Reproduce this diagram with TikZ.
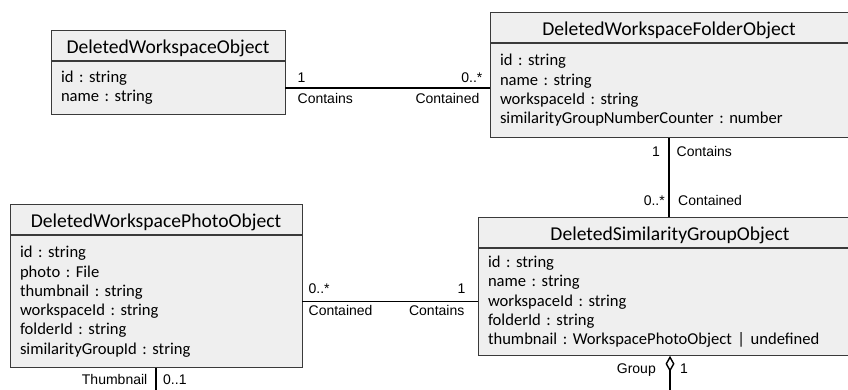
\documentclass[tikz,border=0pt]{standalone}
\usepackage{fontspec}
\setmainfont{Carlito}
\newfontfamily\labelfont{Liberation Sans}
\usetikzlibrary{arrows.meta}
\frenchspacing
\definecolor{boxfill}{HTML}{EFEFEF}
\definecolor{boxline}{HTML}{3A3A3A}
\tikzset{
  classhead/.style={draw=boxline, fill=boxfill, line width=0.9pt, anchor=north, inner sep=0pt,
    minimum height=30pt, text height=16.5pt, text depth=0.5pt, font=\fontsize{19.6}{23}\selectfont},
  classbody/.style={draw=boxline, fill=boxfill, line width=0.9pt, anchor=north, inner xsep=10pt,
    inner ysep=0pt, align=left, font=\fontsize{16.6}{19.3}\selectfont},
  assoc/.style={line width=1.4pt},
  rolelabel/.style={inner sep=0pt, font=\labelfont\fontsize{14}{16}\selectfont},
}
\begin{document}
\begin{tikzpicture}[x=1pt,y=-1pt]
\clip (0,0) rectangle (848,389);

% Draw classes
\node[classhead, minimum width=234pt] (wshead) at (168,30) {DeletedWorkspaceObject};
\node[classbody, text width=214pt, minimum height=53.3pt] (wsbody) at (wshead.south)
  {id : string\\ name : string};

\node[classhead, minimum width=358pt] (folderhead) at (669,12) {DeletedWorkspaceFolderObject};
\node[classbody, text width=338pt, minimum height=94pt] (folderbody) at (folderhead.south)
  {id : string\\ name : string\\ workspaceId : string\\ similarityGroupNumberCounter : number};

\node[classhead, minimum width=292pt] (photohead) at (156,204.3) {DeletedWorkspacePhotoObject};
\node[classbody, text width=272pt, minimum height=132pt] (photobody) at (photohead.south)
  {id : string\\ photo : File\\ thumbnail : string\\ workspaceId : string\\ folderId : string\\
   similarityGroupId : string};

\node[classhead, minimum width=384pt] (grouphead) at (670,216.7) {DeletedSimilarityGroupObject};
\node[classbody, text width=364pt, minimum height=107.3pt] (groupbody) at (grouphead.south)
  {id : string\\ name : string\\ workspaceId : string\\ folderId : string\\
   thumbnail : WorkspacePhotoObject | undefined};

% Workspace -- folder
\draw[assoc] (wsbody.east) -- (wsbody.east -| folderbody.west);
\node[rolelabel, anchor=south west] (wsone) at ([xshift=12pt,yshift=5.5pt]wsbody.east) {1};
\node[rolelabel, anchor=north west] (wscontains) at ([xshift=12pt,yshift=-5pt]wsbody.east) {Contains};
\node[rolelabel, anchor=south east] (folderany) at ([xshift=-7pt,yshift=5.5pt]wsbody.east -| folderbody.west) {0..*};
\node[rolelabel, anchor=north east] (foldercontained) at ([xshift=-10pt,yshift=-5pt]wsbody.east -| folderbody.west) {Contained};

% Folder -- similarity group
\draw[assoc] (folderbody.south) -- (folderbody.south |- grouphead.north);
\node[rolelabel, anchor=north east] (folderone) at ([xshift=-9pt,yshift=-8.6pt]folderbody.south) {1};
\node[rolelabel, anchor=north west] (foldercontains) at ([xshift=7.5pt,yshift=-8.6pt]folderbody.south) {Contains};
\node[rolelabel, anchor=south east] (groupany) at ([xshift=-4pt,yshift=10.5pt]folderbody.south |- grouphead.north) {0..*};
\node[rolelabel, anchor=south west] (groupcontained) at ([xshift=9pt,yshift=10.5pt]folderbody.south |- grouphead.north) {Contained};

% Photo -- similarity group
\draw[assoc] (photobody.east) -- (photobody.east -| groupbody.west);
\node[rolelabel, anchor=south west] (photoany) at ([xshift=6pt,yshift=8.3pt]photobody.east) {0..*};
\node[rolelabel, anchor=north west] (photocontained) at ([xshift=6pt,yshift=-3pt]photobody.east) {Contained};
\node[rolelabel, anchor=south east] (groupone) at ([xshift=-12pt,yshift=8.3pt]photobody.east -| groupbody.west) {1};
\node[rolelabel, anchor=north east] (groupcontains) at ([xshift=-13pt,yshift=-3pt]photobody.east -| groupbody.west) {Contains};

% Links running off the bottom
\coordinate (thumbend) at (photobody.south |- 0,392);
\draw[assoc] (photobody.south) -- (thumbend);
\node[rolelabel, anchor=north east] (thumbrole) at ([xshift=-8.5pt,yshift=-6pt]photobody.south) {Thumbnail};
\node[rolelabel, anchor=north west] (thumbmult) at ([xshift=7pt,yshift=-6pt]photobody.south) {0..1};

\coordinate (groupend) at (groupbody.south |- 0,392);
\draw[assoc, {Diamond[open,length=16pt,width=9pt]}-] (groupbody.south) -- (groupend);
\node[rolelabel, anchor=north east] (grouprole) at ([xshift=-14pt,yshift=-7.7pt]groupbody.south) {Group};
\node[rolelabel, anchor=north west] (groupmult) at ([xshift=10pt,yshift=-7.7pt]groupbody.south) {1};
\end{tikzpicture}
\end{document}
